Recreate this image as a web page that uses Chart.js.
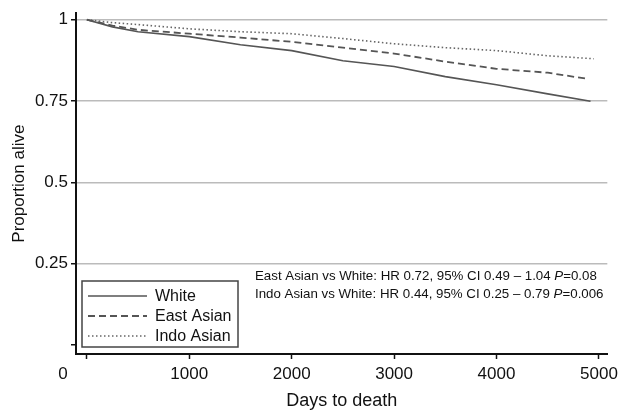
<!DOCTYPE html>
<html>
<head>
<meta charset="utf-8">
<script src="https://cdn.jsdelivr.net/npm/chart.js@4.4.1/dist/chart.umd.min.js"></script>
<style>
  html, body { margin: 0; padding: 0; background: #fff; }
  #wrap { width: 623px; height: 412px; }
</style>
</head>
<body>
<div id="wrap"><canvas id="kmChart" width="623" height="412"></canvas></div>
<script>
// survival curves
const whiteDays = [0, 250, 500, 1000, 1500, 2000, 2500, 3000, 3500, 4000, 4500, 4918];
const whiteSurv = [1, 0.978, 0.963, 0.948, 0.923, 0.905, 0.874, 0.856, 0.825, 0.80, 0.772, 0.749];

const eastDays = [0, 250, 500, 1000, 1500, 2000, 2500, 3000, 3500, 4000, 4500, 4890];
const eastSurv = [1, 0.982, 0.969, 0.957, 0.945, 0.932, 0.914, 0.896, 0.871, 0.849, 0.837, 0.818];

const indoDays = [0, 250, 500, 1000, 1500, 2000, 2500, 3000, 3500, 4000, 4500, 4950];
const indoSurv = [1, 0.991, 0.985, 0.972, 0.963, 0.957, 0.942, 0.926, 0.914, 0.905, 0.889, 0.880];

const seriesNames = ['White', 'East Asian', 'Indo Asian'];
const xTicks = [0, 1000, 2000, 3000, 4000, 5000];
const yTicks = [0, 0.25, 0.5, 0.75, 1];
const hrLines = [
    ['East Asian vs White: HR 0.72, 95% CI 0.49 \u2013 1.04 ', 'P', '=0.08'],
    ['Indo Asian vs White: HR 0.44, 95% CI 0.25 \u2013 0.79 ', 'P', '=0.006']
];

const FONT = '"Liberation Sans", Arial, Helvetica, sans-serif';

function pts(days, surv) {
    return days.map((d, i) => ({ x: d, y: surv[i] }));
}

// legend box + HR text + shifted "0" label
const extras = {
    id: 'extras',
    afterDraw(chart) {
        const c = chart.ctx;
        const xs = chart.scales.x;
        c.save();

        // the "0" label sits left of its tick in the original
        c.fillStyle = '#111';
        c.font = '17px ' + FONT;
        c.textAlign = 'center';
        c.textBaseline = 'middle';
        c.fillText('0', xs.getPixelForValue(0) - 24, 374);

        // legend
        c.strokeStyle = '#444';
        c.lineWidth = 1.5;
        c.strokeRect(82, 281, 156, 66);
        c.font = '16px ' + FONT;
        c.textAlign = 'left';
        const rows = [296, 316, 336];
        chart.data.datasets.forEach((ds, i) => {
            c.beginPath();
            c.strokeStyle = ds.borderColor;
            c.lineWidth = ds.borderWidth;
            c.setLineDash(ds.borderDash || []);
            c.moveTo(88, rows[i]);
            c.lineTo(147, rows[i]);
            c.stroke();
            c.setLineDash([]);
            c.fillStyle = '#111';
            c.fillText(ds.label, 155, rows[i] + 1);
        });

        // hazard ratio text
        [276, 294].forEach((y, i) => {
            let x = 255;
            hrLines[i].forEach((part, j) => {
                c.font = (j === 1 ? 'italic ' : '') + '13.3px ' + FONT;
                c.fillText(part, x, y);
                x += c.measureText(part).width;
            });
        });
        c.restore();
    }
};

const ctx = document.getElementById('kmChart').getContext('2d');
new Chart(ctx, {
    type: 'line',
    data: {
        datasets: [{
            label: seriesNames[0],
            data: pts(whiteDays, whiteSurv),
            borderColor: '#555',
            borderWidth: 1.6,
            pointRadius: 0,
            tension: 0,
            fill: false
        }, {
            label: seriesNames[1],
            data: pts(eastDays, eastSurv),
            borderColor: '#555',
            borderWidth: 1.8,
            borderDash: [7, 4],
            pointRadius: 0,
            tension: 0,
            fill: false
        }, {
            label: seriesNames[2],
            data: pts(indoDays, indoSurv),
            borderColor: '#666',
            borderWidth: 1.6,
            borderDash: [1.5, 2.5],
            pointRadius: 0,
            tension: 0,
            fill: false
        }]
    },
    options: {
        responsive: false,
        animation: false,
        layout: { padding: { top: 12, right: 10, left: 0, bottom: 0 } },
        plugins: { legend: { display: false }, tooltip: { enabled: false } },
        scales: {
            x: {
                type: 'linear',
                min: -106,
                max: 5082,
                afterBuildTicks: s => { s.ticks = xTicks.map(v => ({ value: v })); },
                afterFit: s => { s.height = 58; },
                border: { color: '#111', width: 2 },
                grid: { drawOnChartArea: false, tickLength: 5, tickColor: '#111', tickWidth: 1.5 },
                ticks: {
                    padding: 5,
                    color: '#111',
                    font: { family: FONT, size: 17 },
                    callback: v => (v === 0 ? '' : String(v))
                },
                title: {
                    display: true,
                    text: 'Days to death',
                    color: '#111',
                    font: { family: FONT, size: 18 },
                    padding: { top: 4, bottom: 0 }
                }
            },
            y: {
                min: -0.028,
                max: 1.02,
                afterBuildTicks: s => { s.ticks = yTicks.map(v => ({ value: v })); },
                afterFit: s => { s.width = 76; },
                border: { color: '#111', width: 2 },
                grid: {
                    color: c => (c.tick && c.tick.value > 0 ? '#bbb' : 'rgba(0,0,0,0)'),
                    lineWidth: 1.5,
                    tickLength: 5,
                    tickColor: '#111',
                    tickWidth: 1.5
                },
                ticks: {
                    padding: 3,
                    color: '#111',
                    font: { family: FONT, size: 17 },
                    callback: v => (v === 0 ? '' : String(v))
                },
                title: {
                    display: true,
                    text: 'Proportion alive',
                    color: '#111',
                    font: { family: FONT, size: 17 },
                    padding: { top: 9, bottom: 2 }
                }
            }
        }
    },
    plugins: [extras]
});
</script>
</body>
</html>
